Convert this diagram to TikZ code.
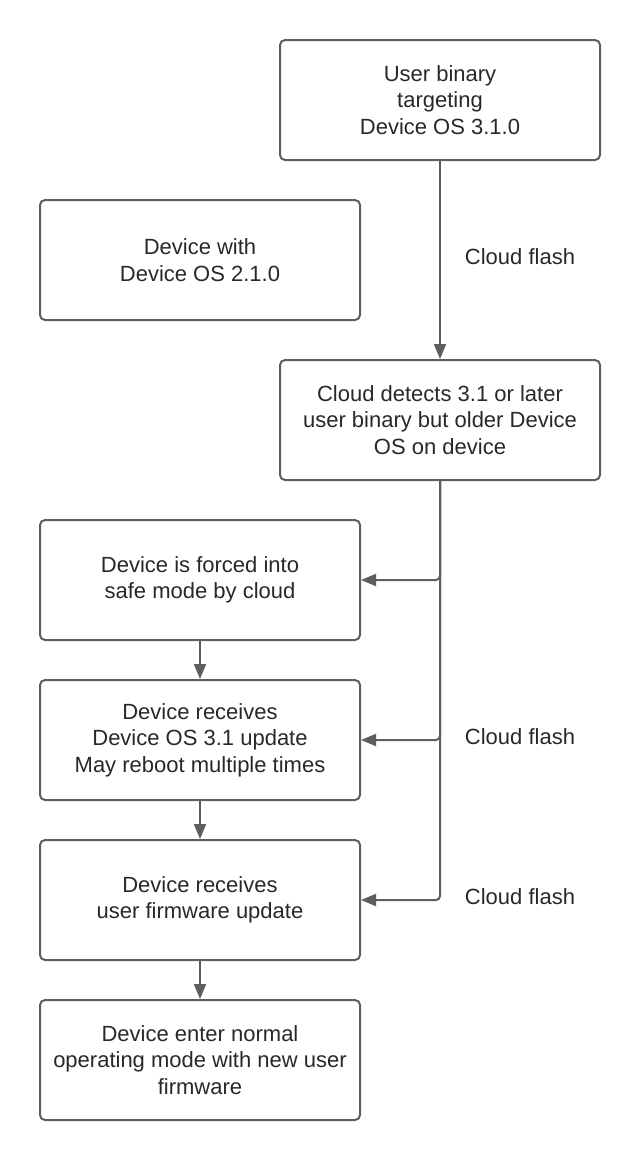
\documentclass[tikz,border=0pt]{standalone}
\usepackage{fontspec}
\setmainfont{Liberation Sans}
\usetikzlibrary{arrows.meta}
\definecolor{linegrey}{HTML}{5E5E5E}
\definecolor{textgrey}{HTML}{282828}
\tikzset{
  box/.style={draw=linegrey, line width=2pt, rounded corners=5pt, minimum width=320pt, minimum height=120pt, align=center, text=textgrey, font=\fontsize{22}{26.5}\selectfont, inner sep=0pt},
  conn/.style={draw=linegrey, line width=2pt, rounded corners=4pt, -{Triangle[length=15pt,width=12pt]}},
  lbl/.style={text=textgrey, font=\fontsize{22}{26.5}\selectfont, inner sep=0pt}
}
\begin{document}
\begin{tikzpicture}[x=1pt,y=-1pt]
\useasboundingbox (0,0) rectangle (640,1160);
\node[box] (user) at (440,100) {User binary\\targeting\\Device OS 3.1.0};
\node[box] (dev) at (200,260) {Device with\\Device OS 2.1.0};
\node[box] (cloud) at (440,420) {Cloud detects 3.1 or later\\user binary but older Device\\OS on device};
\node[box] (safe) at (200,580) {Device is forced into\\safe mode by cloud};
\node[box] (recv) at (200,740) {Device receives\\Device OS 3.1 update\\May reboot multiple times};
\node[box] (fw) at (200,900) {Device receives\\user firmware update};
\node[box] (norm) at (200,1060) {Device enter normal\\operating mode with new user\\firmware};
\node[lbl] (l1) at (520,257) {Cloud flash};
\node[lbl] (l2) at (520,737) {Cloud flash};
\node[lbl] (l3) at (520,897) {Cloud flash};
\draw[conn] (user.south) -- (cloud.north);
\draw[conn] (cloud.south) |- (safe.east);
\draw[conn] (cloud.south) |- (recv.east);
\draw[conn] (cloud.south) |- (fw.east);
\draw[conn] (safe.south) -- (recv.north);
\draw[conn] (recv.south) -- (fw.north);
\draw[conn] (fw.south) -- (norm.north);
\end{tikzpicture}
\end{document}
